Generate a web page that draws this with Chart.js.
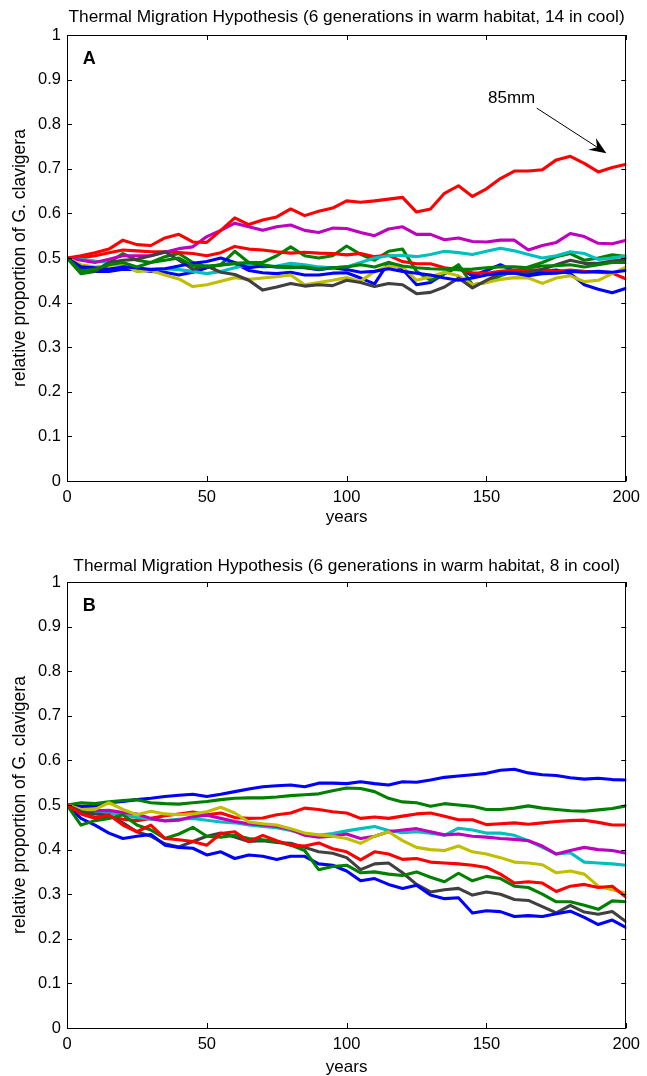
<!DOCTYPE html>
<html>
<head>
<meta charset="utf-8">
<script src="https://cdn.jsdelivr.net/npm/chart.js@4.4.1/dist/chart.umd.min.js"></script>
<style>
  html, body { margin: 0; padding: 0; background: #fff; overflow: hidden; }
  body { width: 647px; height: 1076px; position: relative; }
  canvas { position: absolute; left: 0; }
  #cA { top: 0; }
  #cB { top: 547px; }
</style>
</head>
<body>
<canvas id="cA" width="647" height="540"></canvas>
<canvas id="cB" width="647" height="540"></canvas>
<script>
// ---------- DATA ----------
const years = [0,5,10,15,20,25,30,35,40,45,50,55,60,65,70,75,80,85,90,95,100,105,110,115,120,125,130,135,140,145,150,155,160,165,170,175,180,185,190,195,200];

const xTickValues = [0, 50, 100, 150, 200];
const xTickLabels = ['0', '50', '100', '150', '200'];
const yTickValues = [0, 0.1, 0.2, 0.3, 0.4, 0.5, 0.6, 0.7, 0.8, 0.9, 1];
const yTickLabels = ['0', '0.1', '0.2', '0.3', '0.4', '0.5', '0.6', '0.7', '0.8', '0.9', '1'];

const titleA = 'Thermal Migration Hypothesis (6 generations in warm habitat, 14 in cool)';
const titleB = 'Thermal Migration Hypothesis (6 generations in warm habitat, 8 in cool)';
const xLabel = 'years';
const yLabel = 'relative proportion of G. clavigera';
const panelA = 'A';
const panelB = 'B';
const annotText = '85mm';

// Panel A series (14 generations in cool)
const a_blue1 = [0.5,0.475,0.47,0.47,0.475,0.474,0.47,0.468,0.462,0.468,0.478,0.485,0.488,0.472,0.467,0.465,0.468,0.462,0.462,0.466,0.467,0.455,0.442,0.49,0.475,0.44,0.445,0.465,0.48,0.46,0.472,0.485,0.47,0.465,0.47,0.473,0.465,0.44,0.43,0.422,0.432];
const a_green1 = [0.5,0.465,0.47,0.49,0.51,0.495,0.49,0.503,0.51,0.49,0.48,0.485,0.515,0.49,0.49,0.505,0.525,0.505,0.5,0.505,0.527,0.508,0.495,0.515,0.52,0.47,0.45,0.465,0.485,0.44,0.445,0.46,0.47,0.48,0.49,0.503,0.51,0.495,0.5,0.507,0.503];
const a_red1 = [0.5,0.5,0.505,0.512,0.518,0.516,0.514,0.514,0.512,0.51,0.505,0.512,0.526,0.52,0.518,0.514,0.511,0.513,0.511,0.51,0.507,0.51,0.503,0.506,0.492,0.487,0.487,0.478,0.474,0.467,0.466,0.47,0.473,0.473,0.473,0.47,0.473,0.47,0.468,0.466,0.453];
const a_cyan = [0.5,0.497,0.493,0.49,0.485,0.47,0.475,0.476,0.474,0.47,0.465,0.47,0.478,0.485,0.48,0.482,0.488,0.485,0.48,0.478,0.48,0.49,0.5,0.505,0.506,0.503,0.508,0.515,0.512,0.508,0.515,0.522,0.516,0.508,0.5,0.505,0.514,0.51,0.497,0.5,0.505];
const a_magenta = [0.5,0.495,0.49,0.497,0.505,0.505,0.505,0.513,0.521,0.525,0.548,0.562,0.578,0.57,0.562,0.57,0.574,0.562,0.557,0.567,0.566,0.557,0.55,0.565,0.57,0.553,0.553,0.541,0.545,0.537,0.536,0.54,0.54,0.518,0.528,0.535,0.555,0.548,0.533,0.532,0.54];
const a_yellow = [0.5,0.485,0.48,0.483,0.487,0.47,0.472,0.462,0.453,0.436,0.44,0.448,0.456,0.452,0.455,0.458,0.462,0.44,0.445,0.45,0.456,0.448,0.47,0.482,0.48,0.45,0.458,0.468,0.46,0.44,0.445,0.452,0.456,0.455,0.443,0.455,0.46,0.447,0.45,0.465,0.48];
const a_gray = [0.5,0.475,0.47,0.49,0.495,0.497,0.505,0.514,0.495,0.475,0.482,0.468,0.463,0.45,0.428,0.435,0.443,0.437,0.44,0.438,0.45,0.445,0.436,0.443,0.44,0.42,0.423,0.435,0.455,0.433,0.45,0.466,0.466,0.468,0.475,0.485,0.495,0.488,0.488,0.493,0.497];
const a_blue2 = [0.5,0.48,0.478,0.475,0.48,0.478,0.474,0.476,0.482,0.488,0.492,0.5,0.49,0.478,0.482,0.48,0.48,0.478,0.474,0.478,0.474,0.468,0.47,0.476,0.47,0.466,0.462,0.455,0.45,0.455,0.462,0.466,0.466,0.46,0.465,0.466,0.47,0.468,0.47,0.468,0.472];
const a_green2 = [0.5,0.47,0.475,0.485,0.49,0.48,0.49,0.495,0.5,0.483,0.482,0.484,0.488,0.49,0.485,0.48,0.478,0.48,0.475,0.478,0.48,0.485,0.48,0.49,0.482,0.478,0.476,0.475,0.474,0.475,0.478,0.48,0.48,0.478,0.482,0.483,0.485,0.48,0.485,0.49,0.49];
const a_red85 = [0.5,0.505,0.512,0.52,0.54,0.53,0.528,0.545,0.553,0.536,0.535,0.562,0.59,0.575,0.585,0.592,0.61,0.595,0.605,0.612,0.628,0.625,0.628,0.632,0.636,0.603,0.61,0.645,0.662,0.638,0.655,0.678,0.695,0.695,0.698,0.72,0.728,0.712,0.693,0.703,0.71];

// Panel B series (8 generations in cool)
const b_blue1 = [0.5,0.497,0.498,0.505,0.508,0.512,0.515,0.519,0.522,0.524,0.519,0.524,0.53,0.536,0.541,0.543,0.545,0.541,0.549,0.549,0.548,0.552,0.548,0.545,0.552,0.551,0.556,0.562,0.565,0.568,0.571,0.578,0.58,0.572,0.568,0.566,0.561,0.558,0.56,0.557,0.556];
const b_green1 = [0.5,0.505,0.503,0.507,0.51,0.512,0.505,0.503,0.502,0.505,0.508,0.512,0.515,0.516,0.516,0.518,0.521,0.523,0.525,0.532,0.538,0.537,0.53,0.515,0.507,0.505,0.497,0.503,0.5,0.497,0.49,0.49,0.493,0.498,0.493,0.49,0.487,0.486,0.489,0.492,0.498];
const b_red1 = [0.5,0.485,0.472,0.475,0.468,0.465,0.47,0.476,0.48,0.484,0.478,0.482,0.472,0.47,0.471,0.478,0.482,0.493,0.49,0.485,0.482,0.47,0.473,0.47,0.475,0.48,0.482,0.475,0.467,0.467,0.456,0.458,0.46,0.457,0.46,0.463,0.465,0.466,0.461,0.455,0.455];
const b_cyan = [0.5,0.49,0.485,0.482,0.478,0.472,0.468,0.465,0.468,0.47,0.466,0.462,0.46,0.455,0.452,0.449,0.443,0.435,0.432,0.436,0.442,0.447,0.452,0.443,0.438,0.44,0.437,0.432,0.448,0.444,0.437,0.437,0.432,0.42,0.405,0.39,0.393,0.372,0.37,0.368,0.365];
const b_magenta = [0.5,0.49,0.487,0.488,0.483,0.48,0.47,0.464,0.466,0.474,0.477,0.47,0.463,0.458,0.455,0.452,0.445,0.432,0.428,0.43,0.435,0.425,0.43,0.44,0.444,0.447,0.44,0.433,0.435,0.43,0.428,0.425,0.423,0.42,0.408,0.39,0.398,0.405,0.4,0.398,0.392];
const b_yellow = [0.5,0.49,0.49,0.505,0.49,0.478,0.486,0.48,0.478,0.48,0.485,0.495,0.482,0.462,0.458,0.455,0.447,0.437,0.433,0.43,0.425,0.414,0.43,0.44,0.42,0.405,0.4,0.398,0.408,0.395,0.39,0.382,0.372,0.37,0.366,0.348,0.352,0.345,0.318,0.31,0.302];
const b_gray = [0.5,0.485,0.48,0.477,0.46,0.44,0.43,0.413,0.406,0.418,0.43,0.437,0.428,0.418,0.42,0.416,0.414,0.405,0.395,0.392,0.382,0.355,0.368,0.37,0.348,0.322,0.305,0.31,0.313,0.298,0.305,0.3,0.288,0.286,0.272,0.258,0.275,0.26,0.255,0.261,0.238];
const b_blue2 = [0.5,0.47,0.455,0.437,0.425,0.43,0.434,0.41,0.405,0.403,0.388,0.395,0.38,0.388,0.385,0.378,0.385,0.385,0.368,0.365,0.352,0.33,0.335,0.322,0.313,0.32,0.298,0.29,0.292,0.258,0.263,0.261,0.25,0.252,0.25,0.256,0.262,0.248,0.232,0.242,0.225];
const b_green2 = [0.5,0.455,0.465,0.47,0.478,0.455,0.444,0.425,0.435,0.45,0.43,0.428,0.432,0.425,0.422,0.418,0.41,0.398,0.355,0.362,0.365,0.348,0.35,0.345,0.342,0.35,0.338,0.328,0.347,0.33,0.34,0.335,0.318,0.315,0.3,0.283,0.283,0.275,0.266,0.285,0.283];
const b_red2 = [0.5,0.48,0.47,0.478,0.455,0.44,0.455,0.425,0.422,0.418,0.41,0.436,0.44,0.418,0.432,0.42,0.41,0.408,0.415,0.402,0.395,0.377,0.395,0.39,0.378,0.38,0.372,0.37,0.368,0.365,0.36,0.345,0.325,0.328,0.325,0.306,0.318,0.322,0.315,0.318,0.293];

// MATLAB default line colour order
const lineColors = ['#0000ff', '#008000', '#ff0000', '#00bfbf', '#bf00bf', '#bfbf00', '#404040', '#0000ff', '#008000', '#ff0000'];

const seriesA = [a_blue1, a_green1, a_red1, a_cyan, a_magenta, a_yellow, a_gray, a_blue2, a_green2, a_red85];
const seriesB = [b_blue1, b_green1, b_red1, b_cyan, b_magenta, b_yellow, b_gray, b_blue2, b_green2, b_red2];

// annotation anchor points (data coordinates)
const panelLabelPos = { x: 8, y: 0.945 };
const annotTextPos = { x: 159, y: 0.857 };
const arrowFrom = { x: 168, y: 0.836 };
const arrowTo = { x: 192.9, y: 0.735 };

// ---------- RENDER ----------
const FONT = '"Liberation Sans", Arial, Helvetica, sans-serif';

const framePlugin = {
  id: 'frame',
  afterDraw(chart) {
    const o = chart.options.plugins.frame;
    const { ctx, chartArea: ca, scales: { x, y } } = chart;
    ctx.save();
    ctx.strokeStyle = '#000';
    ctx.lineWidth = 1;
    ctx.strokeRect(Math.round(ca.left) + 0.5, Math.round(ca.top) + 0.5,
                   Math.round(ca.right - ca.left) - 1, Math.round(ca.bottom - ca.top));
    const tl = 5;
    ctx.beginPath();
    xTickValues.forEach(v => {
      const px = Math.round(x.getPixelForValue(v)) + 0.5;
      ctx.moveTo(px, ca.bottom); ctx.lineTo(px, ca.bottom - tl);
      ctx.moveTo(px, ca.top); ctx.lineTo(px, ca.top + tl);
    });
    yTickValues.forEach(v => {
      const py = Math.round(y.getPixelForValue(v)) + 0.5;
      ctx.moveTo(ca.left, py); ctx.lineTo(ca.left + tl, py);
      ctx.moveTo(ca.right, py); ctx.lineTo(ca.right - tl, py);
    });
    ctx.stroke();

    // chart title
    ctx.fillStyle = '#000';
    ctx.font = '17.3px ' + FONT;
    ctx.textAlign = 'center';
    ctx.textBaseline = 'middle';
    ctx.fillText(o.title, (ca.left + ca.right) / 2, o.titleY);

    // panel letter
    ctx.font = 'bold 18px ' + FONT;
    ctx.fillText(o.panel, x.getPixelForValue(panelLabelPos.x), y.getPixelForValue(panelLabelPos.y));

    if (o.annot) {
      ctx.font = '17px ' + FONT;
      ctx.fillText(annotText, x.getPixelForValue(annotTextPos.x), y.getPixelForValue(annotTextPos.y));
      const x0 = x.getPixelForValue(arrowFrom.x), y0 = y.getPixelForValue(arrowFrom.y);
      const x1 = x.getPixelForValue(arrowTo.x), y1 = y.getPixelForValue(arrowTo.y);
      const ang = Math.atan2(y1 - y0, x1 - x0);
      const hl = 17, hw = 7;
      ctx.beginPath();
      ctx.moveTo(x0, y0);
      ctx.lineTo(x1 - Math.cos(ang) * hl * 0.6, y1 - Math.sin(ang) * hl * 0.6);
      ctx.lineWidth = 1;
      ctx.stroke();
      const bx = x1 - Math.cos(ang) * hl, by = y1 - Math.sin(ang) * hl;
      const nx = -Math.sin(ang), ny = Math.cos(ang);
      const mx = x1 - Math.cos(ang) * hl * 0.65, my = y1 - Math.sin(ang) * hl * 0.65;
      ctx.beginPath();
      ctx.moveTo(x1, y1);
      ctx.lineTo(bx + nx * hw, by + ny * hw);
      ctx.lineTo(mx, my);
      ctx.lineTo(bx - nx * hw, by - ny * hw);
      ctx.closePath();
      ctx.fill();
    }
    ctx.restore();
  }
};

function makeChart(id, series, opts) {
  const datasets = series.map((vals, i) => ({
    data: years.map((yr, k) => ({ x: yr, y: vals[k] })),
    borderColor: lineColors[i],
    backgroundColor: lineColors[i],
    borderWidth: 3.1,
    pointRadius: 0,
    tension: 0,
    fill: false,
    borderJoinStyle: 'round',
    borderCapStyle: 'round',
    order: series.length - i
  }));
  return new Chart(document.getElementById(id), {
    type: 'line',
    data: { datasets },
    plugins: [framePlugin],
    options: {
      responsive: false,
      animation: false,
      devicePixelRatio: 1,
      layout: { padding: { left: 0, right: 17, top: 35, bottom: 0 } },
      plugins: {
        legend: { display: false },
        tooltip: { enabled: false },
        title: { display: false },
        frame: opts
      },
      scales: {
        x: {
          type: 'linear', min: 0, max: 200,
          afterBuildTicks: (s) => { s.ticks = xTickValues.map(v => ({ value: v })); },
          afterFit: (s) => { s.height = 59; },
          grid: { display: false, drawTicks: false },
          border: { display: false },
          ticks: {
            color: '#000', padding: 7, maxRotation: 0,
            font: { family: FONT, size: 16.5 },
            callback: (v) => xTickLabels[xTickValues.indexOf(v)]
          },
          title: {
            display: true, text: xLabel, color: '#000',
            font: { family: FONT, size: 17 },
            padding: { top: 0, bottom: opts.xTitlePad }
          }
        },
        y: {
          type: 'linear', min: 0, max: 1,
          afterBuildTicks: (s) => { s.ticks = yTickValues.map(v => ({ value: v })); },
          afterFit: (s) => { s.width = 67; },
          grid: { display: false, drawTicks: false },
          border: { display: false },
          ticks: {
            color: '#000', padding: 6,
            font: { family: FONT, size: 16.5 },
            callback: (v) => yTickLabels[Math.round(v * 10)]
          },
          title: {
            display: true, text: yLabel, color: '#000',
            font: { family: FONT, size: 17.5 },
            padding: { top: 10, bottom: 0 }
          }
        }
      }
    }
  });
}

makeChart('cA', seriesA, { title: titleA, titleY: 17, panel: panelA, annot: true, xTitlePad: 12 });
makeChart('cB', seriesB, { title: titleB, titleY: 19, panel: panelB, annot: false, xTitlePad: 9 });
</script>
</body>
</html>
